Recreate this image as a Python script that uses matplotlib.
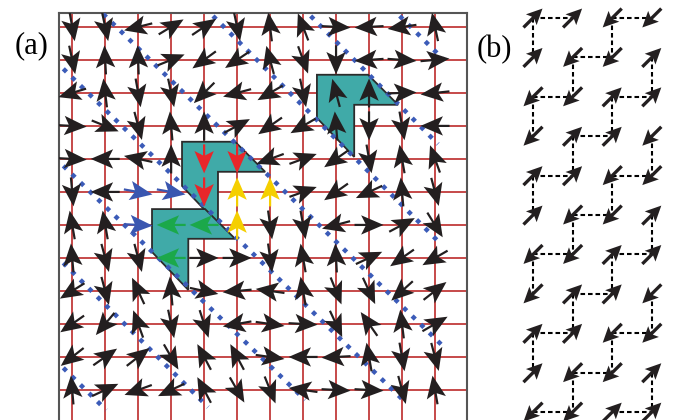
import numpy as np
import matplotlib
matplotlib.use("Agg")
import matplotlib.pyplot as plt
from matplotlib.patches import Polygon

# ---- panel (a): spin angle on each lattice site (deg, 0 = right, 90 = up)
# rows listed top to bottom, 12 columns left to right
angles_a = [
    [-80, -78, 194, 31, 34, -78, 97, 111, -3, 183, 188, 102],
    [-78, 93, 92, 22, 216, 214, 105, -70, -90, 184, -4, 5],
    [197, 97, -80, -78, 225, 195, 210, -78, 105, 90, 2, 186],
    [-3, -22, -75, 95, 90, 28, 215, 210, 95, -90, -80, 180],
    [-3, 180, 168, 90, -90, -90, 200, 20, 215, -80, 100, 110],
    [-85, 180, -10, -10, -90, 90, 90, 20, 215, 205, 95, -75],
    [100, 100, -3, 180, 180, 90, -82, -80, 195, 0, 28, -58],
    [95, -75, -75, 180, 0, 0, -82, 100, 93, 25, 215, 210],
    [212, -75, 115, 95, -12, 185, 172, 100, -68, -65, 222, 38],
    [215, 230, 110, -78, -72, 190, -8, -3, -65, 125, 97, 30],
    [218, 35, 38, -60, 118, 118, -8, 180, 183, 100, -80, -75],
    [95, 25, 200, 205, 118, -60, -68, 172, -3, -3, -75, 100],
]
# highlighted sites (row, col)
red_sites = [(4, 4), (4, 5), (5, 4)]
yellow_sites = [(5, 5), (5, 6), (6, 5)]
blue_sites = [(5, 2), (5, 3), (6, 2)]
green_sites = [(6, 3), (6, 4), (7, 3)]

# teal L-shaped plaquettes, vertices (col, row)
shape_1 = [(7.42, 1.45), (8.97, 1.45), (9.88, 2.36), (8.55, 2.36), (8.55, 3.94), (7.42, 2.76)]
shape_2 = [(3.33, 3.48), (4.94, 3.48), (5.85, 4.39), (4.42, 4.39), (4.42, 5.97), (3.33, 4.82)]
shape_3 = [(2.42, 5.52), (4.03, 5.52), (4.94, 6.42), (3.52, 6.42), (3.52, 7.97), (2.42, 6.82)]

# blue dotted diagonals: (col start, row start, col end, row end)
diagonals = [
    (9.93, -0.33, 11.24, 0.97),
    (7.23, -0.33, 11.09, 3.55),
    (4.27, -0.33, 11.21, 6.61),
    (0.94, -0.39, 11.30, 9.73),
    (-0.27, 1.27, 10.12, 11.39),
    (-0.27, 4.21, 7.06, 11.30),
    (-0.27, 7.15, 4.12, 11.52),
    (-0.27, 10.33, 1.03, 11.61),
]

# ---- panel (b): up-right (U) / down-left (D) spins, rows top to bottom
spins_b = ["UUDD", "UDDU", "DDUU", "DUUD", "UUDD", "UDDU",
           "DDUU", "DUUD", "UUDD", "UDDU", "DDUU"]

arrow_black = "#231f20"
fig = plt.figure(figsize=(6.76, 4.2), dpi=100)

# panel (a) axes, one unit = one lattice spacing (33 px)
ax = fig.add_axes([59 / 676, 0, 408 / 676, 407.3 / 420])
ax.set_xlim(-0.4, 11.97)
ax.set_ylim(11.91, -0.43)
ax.set_xticks([])
ax.set_yticks([])
for s in ["left", "top", "right"]:
    ax.spines[s].set_color("#555555")
    ax.spines[s].set_linewidth(1.5)
ax.spines["bottom"].set_visible(False)

n = len(angles_a)
for k in range(n):
    ax.axvline(k, color="#c23a3a", lw=1.3, zorder=1)
    ax.axhline(k, color="#c23a3a", lw=1.3, zorder=1)

for shp in [shape_1, shape_2, shape_3]:
    ax.add_patch(Polygon(shp, closed=True, facecolor="#40aaa8",
                         edgecolor="#2b2b2b", lw=1.3, zorder=2))

for c0, r0, c1, r1 in diagonals:
    ax.plot([c0, c1], [r0, r1], color="#3b5bb8", lw=3.2,
            linestyle=(0, (1, 1.7)), dash_capstyle="butt", zorder=3)

rows, cols = np.mgrid[0:n, 0:n]
ang = np.radians(np.array(angles_a, dtype=float))
L = 0.88
u = L * np.cos(ang)
v = -L * np.sin(ang)
colors = np.full((n, n), arrow_black, dtype=object)
for sites, c in [(red_sites, "#e8262a"), (yellow_sites, "#f5cf00"),
                 (blue_sites, "#3a56b0"), (green_sites, "#1ba84a")]:
    for r, cc in sites:
        colors[r, cc] = c
ax.quiver(cols.ravel(), rows.ravel(), u.ravel(), v.ravel(),
          color=list(colors.ravel()), angles="xy", scale_units="xy", scale=1,
          pivot="middle", units="dots", width=2.2, headwidth=8.8,
          headlength=10.2, headaxislength=8.2, zorder=4)

# panel (b) axes
bx = fig.add_axes([500 / 676, 0, 176 / 676, 1])
bx.set_xlim(-0.833, 3.611)
bx.set_ylim(10.2, -0.457)
bx.axis("off")

nb = len(spins_b)
for r in range(nb):
    for c in range(4):
        if c < 3 and spins_b[r][c] == spins_b[r][c + 1]:
            bx.plot([c, c + 1], [r, r], color="black", lw=1.5,
                    linestyle=(0, (2.2, 1.4)), zorder=1)
        if r < nb - 1 and spins_b[r][c] == spins_b[r + 1][c]:
            bx.plot([c, c], [r, r + 1], color="black", lw=1.5,
                    linestyle=(0, (2.2, 1.4)), zorder=1)

br, bc = np.mgrid[0:nb, 0:4]
sgn = np.array([[1.0 if s == "U" else -1.0 for s in row] for row in spins_b])
Lb = 0.48
bx.quiver(bc.ravel(), br.ravel(), (Lb * sgn).ravel(), (-Lb * sgn).ravel(),
          color=arrow_black, angles="xy", scale_units="xy", scale=1,
          pivot="middle", units="dots", width=3.3, headwidth=4.6,
          headlength=4.8, headaxislength=4.0, zorder=2)

fig.text(15 / 676, 1 - 46 / 420, "(a)", fontsize=22, family="Liberation Serif",
         va="center", ha="left")
fig.text(477 / 676, 1 - 50 / 420, "(b)", fontsize=22, family="Liberation Serif",
         va="center", ha="left")

fig.savefig("out.png", dpi=100)
